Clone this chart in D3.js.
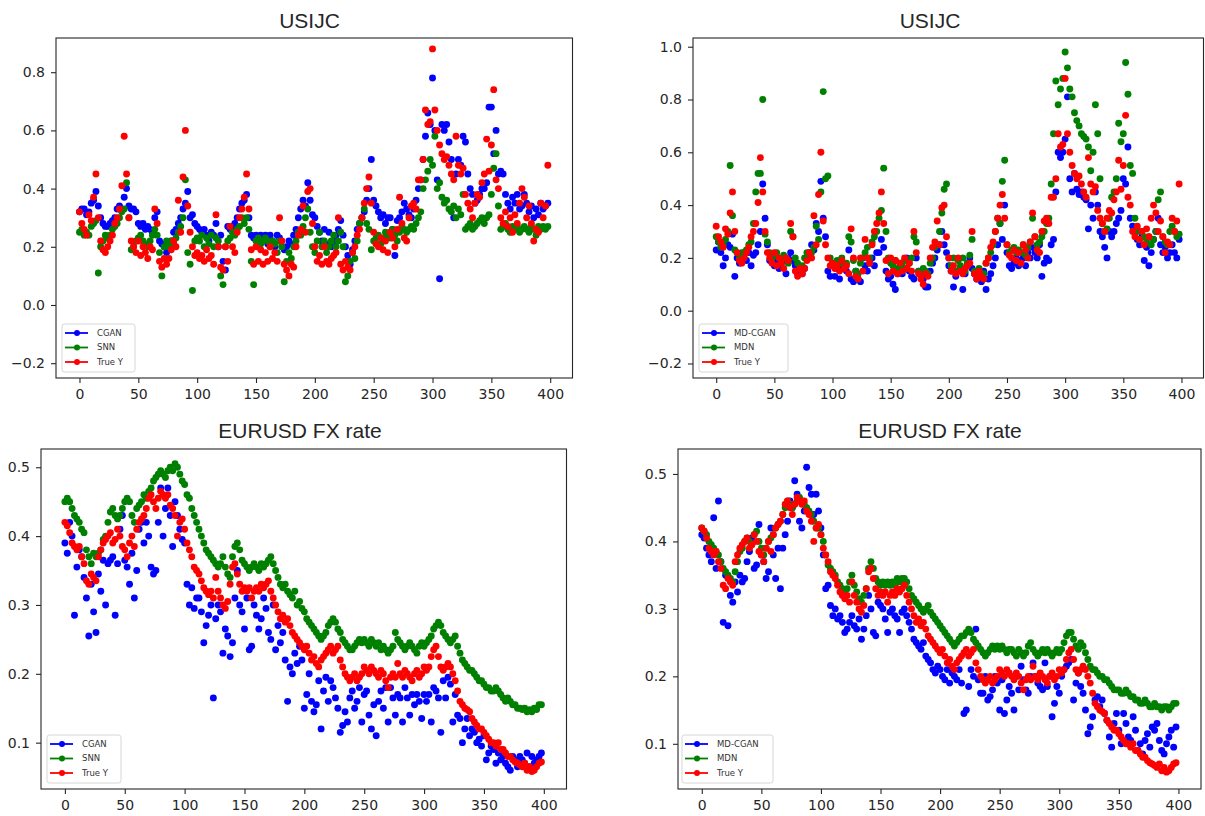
<!DOCTYPE html>
<html><head><meta charset="utf-8">
<script src="https://cdn.jsdelivr.net/npm/d3@7"></script>
<style>body{margin:0;background:#fff}svg{display:block}</style>
</head><body><svg id="chart" width="1205" height="816"></svg>
<script>
// sample index (every second step of the 0..399 test window)
const xIndex = d3.range(0, 400, 2);

// ---- USIJC ----
const usTrueY = [
.32,.28,.26,.24,.31,.29,.37,.45,.30,.22, .19,.18,.20,.22,.24,.28,.30,.33,.41,.58,
.45,.30,.22,.20,.18,.22,.17,.20,.18,.16, .20,.19,.33,.28,.15,.13,.16,.14,.16,.19,
.22,.20,.36,.25,.44,.60,.34,.25,.20,.17, .18,.16,.17,.15,.19,.16,.17,.14,.31,.20,
.13,.12,.20,.15,.27,.20,.18,.25,.30,.33, .37,.45,.33,.19,.14,.20,.15,.19,.14,.18,
.15,.20,.16,.18,.15,.30,.22,.14,.12,.10, .14,.13,.20,.24,.26,.34,.25,.39,.40,.28,
.20,.15,.17,.14,.20,.15,.14,.16,.17,.18, .30,.14,.12,.15,.13,.12,.18,.20,.24,.26,
.30,.35,.40,.44,.35,.25,.21,.20,.23,.19, .22,.18,.25,.23,.20,.26,.37,.28,.23,.22,
.30,.34,.35,.33,.43,.43,.50,.67,.62,.63, .88,.67,.60,.55,.52,.50,.51,.48,.45,.43,
.58,.48,.45,.47,.38,.35,.33,.30,.35,.38, .37,.42,.45,.57,.46,.55,.74,.43,.40,.30,
.28,.32,.27,.30,.25,.31,.28,.35,.40,.37, .30,.34,.28,.22,.26,.25,.35,.30,.34,.48];
const usCgan = [
.32,.33,.33,.31,.32,.35,.36,.39,.34,.30, .28,.27,.27,.28,.29,.30,.33,.34,.33,.37,
.40,.34,.33,.33,.32,.28,.27,.28,.26,.27, .26,.25,.30,.32,.22,.21,.20,.18,.20,.22,
.25,.26,.28,.30,.33,.35,.39,.30,.31,.28, .27,.26,.25,.26,.24,.22,.25,.24,.28,.20,
.24,.15,.12,.27,.26,.27,.28,.30,.33,.35, .36,.38,.30,.24,.23,.24,.22,.24,.23,.24,
.21,.24,.22,.20,.24,.23,.20,.19,.20,.22, .21,.24,.26,.30,.33,.36,.34,.42,.36,.31,
.30,.27,.25,.22,.26,.21,.25,.20,.22,.24, .26,.29,.24,.20,.17,.14,.19,.22,.26,.28,
.30,.32,.36,.40,.50,.36,.34,.32,.30,.31, .28,.30,.30,.26,.17,.29,.30,.32,.35,.33,
.31,.30,.33,.36,.40,.43,.50,.58,.66,.62, .78,.60,.43,.09,.62,.60,.62,.56,.50,.30,
.45,.50,.48,.58,.56,.45,.40,.38,.35,.36, .38,.40,.40,.42,.68,.68,.52,.60,.45,.46,
.45,.38,.35,.33,.37,.35,.38,.33,.34,.38, .35,.32,.34,.30,.33,.31,.35,.33,.34,.35];
const usSnn = [
.25,.26,.24,.25,.24,.27,.28,.29,.11,.20, .22,.24,.23,.24,.26,.27,.28,.30,.32,.33,
.42,.30,.19,.20,.22,.23,.24,.22,.21,.20, .22,.24,.26,.24,.18,.10,.20,.22,.20,.22,
.21,.23,.25,.27,.30,.43,.18,.14,.05,.22, .23,.22,.24,.20,.23,.21,.24,.20,.23,.22,
.10,.07,.20,.22,.23,.25,.24,.26,.27,.30, .28,.30,.26,.15,.07,.22,.23,.21,.22,.23,
.22,.20,.22,.21,.18,.22,.20,.08,.15,.18, .16,.20,.22,.25,.24,.27,.30,.33,.25,.20,
.18,.22,.25,.20,.22,.18,.20,.22,.24,.20, .22,.25,.20,.08,.10,.15,.18,.16,.22,.28,
.30,.33,.28,.26,.19,.22,.23,.24,.21,.23, .25,.24,.23,.26,.24,.22,.25,.27,.26,.25,
.26,.27,.26,.28,.30,.32,.40,.43,.46,.50, .48,.58,.40,.42,.37,.35,.36,.33,.32,.34,
.30,.33,.31,.38,.26,.27,.28,.26,.27,.28, .29,.30,.28,.30,.31,.38,.47,.52,.34,.26,
.27,.28,.26,.25,.27,.26,.27,.25,.26,.27, .26,.25,.27,.26,.24,.27,.26,.27,.26,.27];
const usMdcgan = [
.23,.26,.22,.17,.20,.25,.24,.29,.13,.20, .18,.20,.22,.19,.22,.17,.21,.22,.25,.30,
.48,.35,.25,.19,.20,.17,.19,.16,.18,.19, .14,.20,.22,.19,.17,.14,.15,.14,.16,.20,
.22,.25,.23,.33,.30,.49,.35,.28,.15,.13, .18,.13,.16,.12,.16,.17,.15,.23,.12,.11,
.15,.12,.11,.20,.17,.15,.18,.20,.17,.22, .22,.27,.24,.15,.12,.13,.10,.08,.14,.15,
.14,.16,.20,.15,.13,.12,.20,.15,.14,.12, .09,.09,.15,.18,.20,.23,.25,.30,.25,.22,
.17,.15,.09,.13,.15,.16,.08,.14,.18,.20, .16,.14,.12,.13,.11,.15,.08,.12,.14,.17,
.20,.25,.33,.27,.40,.22,.17,.16,.18,.20, .17,.19,.20,.17,.22,.20,.24,.22,.20,.25,
.13,.18,.20,.19,.25,.27,.45,.60,.58,.60, .65,.81,.50,.45,.52,.46,.44,.45,.43,.42,
.31,.40,.35,.45,.40,.30,.28,.24,.20,.30, .28,.30,.33,.35,.38,.50,.48,.62,.35,.32,
.30,.27,.25,.28,.19,.24,.17,.22,.27,.30, .35,.25,.22,.24,.20,.22,.25,.22,.20,.27];
const usMdn = [
.28,.26,.24,.25,.27,.30,.55,.36,.23,.22, .20,.22,.21,.23,.25,.26,.33,.45,.52,.52,
.80,.29,.26,.22,.20,.21,.22,.20,.19,.21, .20,.18,.30,.28,.20,.18,.16,.17,.20,.22,
.21,.22,.24,.32,.27,.45,.83,.50,.51,.20, .18,.17,.19,.18,.20,.17,.18,.28,.26,.19,
.15,.14,.18,.20,.22,.24,.20,.26,.28,.30, .35,.38,.54,.30,.20,.18,.17,.19,.16,.18,
.17,.19,.16,.18,.20,.28,.26,.15,.14,.16, .15,.14,.18,.20,.24,.25,.30,.37,.46,.48,
.20,.17,.20,.15,.19,.17,.20,.15,.18,.21, .27,.15,.14,.16,.13,.14,.18,.20,.22,.25,
.30,.35,.33,.49,.57,.25,.22,.23,.24,.22, .23,.22,.25,.21,.24,.26,.35,.28,.25,.26,
.28,.30,.33,.35,.48,.67,.87,.78,.84,.88, .98,.92,.84,.81,.75,.72,.70,.67,.66,.65,
.62,.53,.60,.78,.67,.50,.33,.30,.31,.35, .43,.45,.50,.71,.64,.67,.94,.82,.55,.52,
.35,.30,.27,.30,.28,.26,.28,.25,.27,.30, .42,.45,.28,.26,.25,.30,.32,.30,.28,.29];

// ---- EURUSD ----
const euTrueY = [
.42,.415,.405,.39,.385,.38,.385,.37,.36,.335, .33,.345,.34,.335,.37,.38,.39,.395,.40,.405,
.39,.395,.41,.40,.385,.38,.37,.39,.40,.385, .41,.42,.425,.43,.44,.455,.46,.45,.44,.455,
.465,.46,.455,.46,.445,.44,.43,.40,.42,.425, .41,.39,.38,.37,.355,.35,.345,.335,.325,.32,
.315,.32,.31,.34,.32,.31,.30,.295,.305,.33, .355,.36,.345,.33,.32,.325,.32,.325,.31,.32,
.325,.32,.33,.325,.33,.335,.32,.31,.30,.29, .28,.285,.275,.28,.27,.26,.255,.25,.245,.24,
.235,.24,.23,.22,.225,.215,.21,.22,.225,.23, .235,.24,.23,.235,.24,.22,.21,.20,.195,.19,
.195,.20,.19,.195,.20,.21,.205,.20,.21,.205, .20,.195,.205,.20,.19,.18,.195,.20,.195,.215,
.20,.195,.205,.20,.195,.19,.20,.205,.195,.20, .21,.205,.21,.225,.235,.24,.225,.21,.205,.21,
.215,.21,.20,.19,.175,.16,.155,.15,.148,.145, .135,.13,.125,.12,.12,.115,.11,.105,.10,.10,
.095,.10,.09,.09,.085,.08,.08,.075,.072,.07, .068,.065,.07,.06,.065,.058,.06,.065,.07,.072];
const euCgan = [
.39,.375,.42,.40,.285,.355,.38,.37,.34,.31, .255,.33,.29,.26,.345,.32,.365,.30,.36,.365,
.37,.285,.36,.41,.43,.365,.355,.33,.375,.31, .35,.41,.42,.39,.42,.40,.355,.345,.35,.42,
.47,.40,.44,.47,.43,.385,.45,.43,.41,.395, .39,.33,.30,.325,.295,.31,.31,.29,.245,.27,
.285,.30,.165,.28,.30,.29,.23,.265,.255,.225, .245,.31,.35,.30,.29,.265,.31,.235,.24,.30,
.285,.265,.28,.31,.295,.26,.25,.30,.235,.27, .245,.26,.22,.16,.21,.20,.23,.215,.24,.22,
.15,.17,.20,.16,.145,.155,.19,.12,.175,.195, .16,.19,.18,.165,.15,.115,.125,.145,.13,.165,
.175,.15,.16,.18,.13,.17,.175,.14,.12,.155, .11,.16,.175,.15,.18,.13,.18,.165,.14,.17,
.165,.13,.18,.165,.14,.17,.155,.17,.16,.135, .17,.16,.17,.13,.18,.175,.165,.115,.19,.165,
.195,.185,.13,.17,.14,.135,.10,.12,.135,.11, .12,.115,.10,.105,.095,.11,.075,.085,.095,.09,
.07,.085,.075,.08,.07,.065,.06,.08,.075,.065, .08,.075,.07,.085,.065,.08,.07,.075,.08,.085];
const euSnn = [
.45,.455,.45,.44,.43,.425,.42,.41,.405,.38, .37,.36,.375,.37,.375,.38,.395,.40,.42,.435,
.44,.43,.425,.43,.44,.45,.455,.45,.43,.42, .44,.445,.45,.46,.455,.465,.47,.48,.485,.49,
.495,.49,.485,.495,.50,.495,.505,.50,.49,.48, .475,.46,.455,.44,.43,.42,.41,.40,.39,.38,
.375,.37,.365,.36,.355,.36,.37,.355,.345,.34, .37,.385,.39,.38,.365,.36,.355,.35,.355,.36,
.355,.35,.36,.355,.36,.365,.37,.36,.35,.34, .33,.325,.33,.32,.315,.31,.32,.30,.305,.295,
.29,.28,.275,.27,.265,.26,.255,.25,.255,.26, .27,.275,.28,.275,.265,.26,.25,.245,.24,.235,
.235,.24,.245,.25,.245,.25,.245,.24,.25,.245, .24,.245,.235,.24,.235,.23,.235,.24,.26,.25,
.245,.24,.235,.24,.245,.24,.235,.23,.24,.245, .24,.245,.25,.255,.265,.27,.275,.27,.26,.255,
.25,.245,.25,.255,.24,.23,.22,.215,.21,.205, .205,.20,.195,.19,.19,.185,.18,.18,.175,.175,
.18,.175,.17,.165,.16,.165,.16,.155,.155,.15, .15,.148,.15,.145,.148,.145,.15,.148,.155,.155];
const euMdcgan = [
.41,.405,.39,.38,.37,.435,.36,.46,.37,.28, .35,.275,.32,.31,.34,.325,.35,.34,.345,.37,
.385,.405,.36,.365,.425,.38,.37,.345,.355,.42, .38,.345,.39,.33,.39,.41,.43,.46,.45,.49,
.47,.43,.42,.445,.51,.48,.47,.44,.47,.445, .42,.38,.33,.335,.305,.29,.30,.285,.29,.28,
.265,.27,.28,.29,.275,.27,.285,.255,.27,.29, .32,.30,.265,.26,.31,.305,.30,.285,.265,.295,
.30,.29,.285,.265,.295,.30,.29,.28,.27,.255, .25,.245,.24,.25,.23,.225,.22,.21,.205,.215,
.21,.20,.195,.21,.19,.205,.20,.195,.21,.19, .145,.15,.185,.21,.20,.27,.195,.175,.175,.20,
.165,.17,.18,.20,.19,.15,.195,.145,.165,.185, .175,.15,.20,.18,.215,.195,.18,.175,.20,.22,
.20,.19,.185,.18,.22,.185,.20,.14,.16,.185, .175,.20,.21,.215,.22,.225,.165,.19,.205,.185,
.175,.15,.115,.125,.14,.165,.17,.155,.165,.145, .135,.11,.095,.13,.145,.12,.10,.145,.13,.11,
.105,.14,.12,.09,.10,.085,.105,.115,.095,.125, .12,.13,.105,.09,.085,.10,.11,.12,.095,.125];
const euMdn = [
.42,.415,.41,.40,.395,.39,.385,.38,.37,.36, .355,.35,.345,.34,.355,.37,.385,.39,.40,.405,
.40,.395,.41,.415,.40,.39,.38,.39,.40,.405, .41,.42,.425,.43,.44,.45,.46,.455,.45,.455,
.46,.465,.46,.455,.45,.445,.44,.43,.42,.42, .41,.40,.38,.365,.36,.355,.35,.34,.335,.33,
.325,.33,.34,.35,.335,.325,.315,.31,.32,.33, .36,.37,.36,.345,.34,.335,.34,.335,.34,.335,
.34,.335,.345,.34,.345,.345,.34,.33,.32,.315, .31,.305,.30,.295,.30,.305,.295,.29,.285,.28,
.275,.27,.265,.26,.255,.25,.245,.25,.255,.26, .26,.265,.27,.265,.255,.25,.245,.24,.235,.23,
.235,.24,.245,.24,.245,.24,.245,.24,.235,.24, .24,.235,.23,.24,.235,.23,.235,.245,.25,.24,
.235,.23,.235,.24,.235,.24,.235,.23,.235,.24, .235,.24,.25,.26,.265,.265,.255,.245,.24,.25,
.245,.235,.225,.215,.21,.21,.205,.20,.20,.195, .195,.19,.185,.18,.18,.18,.175,.175,.18,.175,
.17,.17,.165,.165,.16,.16,.165,.16,.155,.155, .16,.155,.155,.15,.155,.155,.15,.155,.16,.16];

// ---- ticks ----
const xTicks = [0, 50, 100, 150, 200, 250, 300, 350, 400];
const usYTicksL = [-0.2, 0, 0.2, 0.4, 0.6, 0.8];
const usYTicksR = [-0.2, 0, 0.2, 0.4, 0.6, 0.8, 1.0];
const euYTicks = [0.1, 0.2, 0.3, 0.4, 0.5];

const BLUE = "#0000ff", GREEN = "#008000", RED = "#ff0000";
const panels = [
  {title:"USIJC", tx:309.5, ty:28, l:56, r:572.5, t:38, b:378, yd:[-0.2509, 0.9175], yt:usYTicksL, lx:62, lw:73,
   series:[["CGAN",BLUE,usCgan],["SNN",GREEN,usSnn],["True Y",RED,usTrueY]]},
  {title:"USIJC", tx:930, ty:28, l:693, r:1203.5, t:38, b:378, yd:[-0.255, 1.033], yt:usYTicksR, lx:699, lw:89,
   series:[["MD-CGAN",BLUE,usMdcgan],["MDN",GREEN,usMdn],["True Y",RED,usTrueY]]},
  {title:"EURUSD FX rate", tx:300, ty:438, l:41, r:566.5, t:449, b:789, yd:[0.0327, 0.5265], yt:euYTicks, lx:47, lw:74,
   series:[["CGAN",BLUE,euCgan],["SNN",GREEN,euSnn],["True Y",RED,euTrueY]]},
  {title:"EURUSD FX rate", tx:940, ty:438, l:678, r:1201, t:449, b:789, yd:[0.033, 0.537], yt:euYTicks, lx:682, lw:91,
   series:[["MD-CGAN",BLUE,euMdcgan],["MDN",GREEN,euMdn],["True Y",RED,euTrueY]]}
];

const svg = d3.select("#chart");
svg.append("rect").attr("width",1205).attr("height",816).attr("fill","#fff");
const TXT = "#262626";
const yFmt = d => d3.format(".1f")(d).replace("-", "\u2212");

panels.forEach(p => {
  const x = d3.scaleLinear().domain([-19.95, 418.95]).range([p.l, p.r]);
  const y = d3.scaleLinear().domain(p.yd).range([p.b, p.t]);
  const g = svg.append("g");

  // points
  p.series.forEach(([name, color, vals]) => {
    g.append("g").selectAll("circle").data(vals).join("circle")
      .attr("cx", (d, i) => x(xIndex[i]))
      .attr("cy", d => y(d))
      .attr("r", 3.45)
      .attr("fill", color);
  });

  // frame
  g.append("rect").attr("x", p.l).attr("y", p.t).attr("width", p.r - p.l).attr("height", p.b - p.t)
    .attr("fill", "none").attr("stroke", TXT).attr("stroke-width", 1.1);

  // axes
  const ax = g.append("g").attr("transform", `translate(0,${p.b})`)
    .call(d3.axisBottom(x).tickValues(xTicks).tickSize(5).tickPadding(6).tickFormat(d3.format("d")));
  const ay = g.append("g").attr("transform", `translate(${p.l},0)`)
    .call(d3.axisLeft(y).tickValues(p.yt).tickSize(5).tickPadding(6).tickFormat(yFmt));
  [ax, ay].forEach(a => {
    a.select(".domain").remove();
    a.attr("font-family", "DejaVu Sans").attr("font-size", 14);
    a.selectAll("text").attr("fill", TXT);
    a.selectAll("line").attr("stroke", TXT).attr("stroke-width", 1.1);
  });

  // title
  g.append("text").attr("x", p.tx).attr("y", p.ty).attr("text-anchor", "middle")
    .attr("font-family", "Liberation Sans, Arial, sans-serif").attr("font-size", 21)
    .attr("fill", TXT).text(p.title);

  // legend
  const lh = 48, ly = p.b - 6 - lh;
  const lg = g.append("g").attr("transform", `translate(${p.lx},${ly})`);
  lg.append("rect").attr("width", p.lw).attr("height", lh).attr("rx", 2.5)
    .attr("fill", "#fff").attr("fill-opacity", 0.85).attr("stroke", "#d6d6d6").attr("stroke-width", 1);
  p.series.forEach(([name, color], i) => {
    const ry = 9 + i * 14.5;
    lg.append("line").attr("x1", 3).attr("x2", 26).attr("y1", ry).attr("y2", ry)
      .attr("stroke", color).attr("stroke-width", 1.8);
    lg.append("circle").attr("cx", 15).attr("cy", ry).attr("r", 3).attr("fill", color);
    lg.append("text").attr("x", 35).attr("y", ry).attr("dy", "0.35em")
      .attr("font-family", "DejaVu Sans").attr("font-size", 8.5).attr("fill", "#333").text(name);
  });
});
</script></body></html>
